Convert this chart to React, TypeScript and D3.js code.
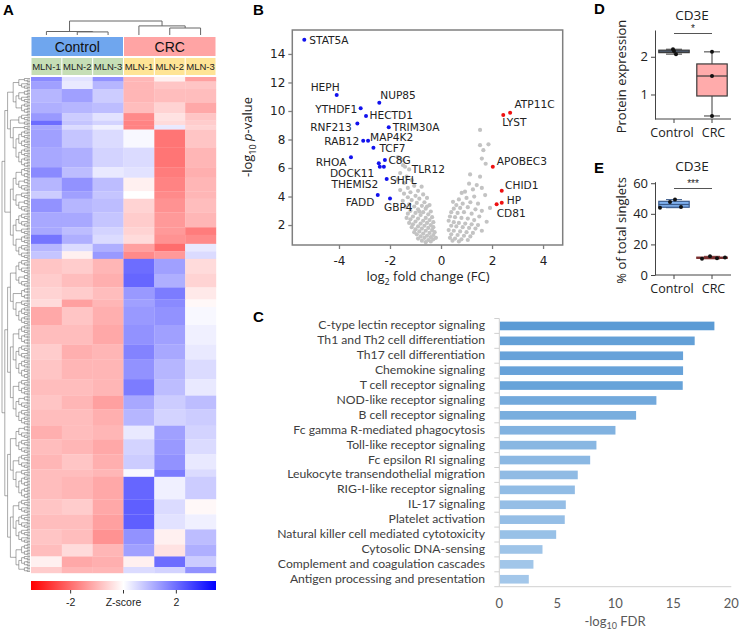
import React, { useRef, useEffect } from "react";
import * as d3 from "d3";

// ---------- A: heatmap ----------
const groups = ["Control", "CRC"];
const samples = ["MLN-1", "MLN-2", "MLN-3", "MLN-1", "MLN-2", "MLN-3"];
// number of gene rows in each band of the heatmap (top to bottom)
const bandRows = [
  3, 5, 9, 7, 5, 3, 3, 12, 13, 7, 9, 5, 9, 10, 5, 6, 5, 5,
  10, 9, 8, 5, 12, 13, 10, 13, 11, 9, 11, 9, 10, 10, 5, 15, 10, 10, 10, 8, 7, 4,
];
// z-score of each band in the six samples (Control 1-3, CRC 1-3)
const bandZ = [
  [1.6, 0.4, 1.5, -1.0, -0.2, -1.3],
  [1.3, 0.3, 1.0, -1.0, -0.8, -0.8],
  [1.0, 1.3, 0.7, -1.0, -0.9, -0.9],
  [1.1, 1.0, 0.9, -0.9, -0.6, -1.2],
  [1.4, 0.7, 0.4, -1.6, -0.4, -0.8],
  [2.0, 0.8, 0.6, -1.7, -0.5, -0.7],
  [1.2, 0.5, 0.2, -1.7, 0.3, -0.6],
  [1.3, 0.8, 0.5, 0.1, -1.9, -0.8],
  [1.2, 1.1, 0.6, 0.5, -1.9, -1.0],
  [1.6, 0.9, 0.3, 0.4, -1.8, -1.1],
  [1.0, 1.5, 0.9, -0.2, -1.7, -1.0],
  [0.7, 1.3, 0.8, 0.0, -1.6, -1.0],
  [1.5, 1.0, 0.9, -0.6, -1.5, -0.9],
  [1.2, 1.2, 0.8, -0.7, -1.4, -1.0],
  [1.2, 0.9, 0.6, -0.6, -1.4, -1.8],
  [1.9, 1.1, 0.5, -0.5, -1.5, -1.6],
  [1.0, 0.5, 1.1, -1.3, -2.0, 0.3],
  [0.8, -0.2, 1.4, -1.6, -1.4, 0.5],
  [-0.8, -0.7, -1.0, 2.0, 1.3, -0.5],
  [-0.7, -0.9, -1.1, 2.1, 1.1, -0.6],
  [-0.6, -0.7, -0.9, 1.4, 1.8, -0.3],
  [-0.5, -1.3, -1.0, 1.3, 1.6, -0.1],
  [-1.2, -0.8, -1.1, 1.4, 1.5, 0.1],
  [-0.9, -0.9, -1.2, 1.5, 1.3, 0.2],
  [-0.7, -1.1, -1.0, 1.7, 1.2, 0.3],
  [-0.8, -1.0, -1.0, 1.5, 1.0, 0.5],
  [-0.9, -0.9, -1.0, 1.8, 0.9, 0.3],
  [-0.8, -1.0, -1.3, 1.2, 0.7, 0.9],
  [-0.9, -0.9, -1.1, 1.0, 0.6, 0.7],
  [-1.1, -0.9, -1.0, 0.3, 1.3, 0.6],
  [-0.9, -1.0, -1.2, 0.6, 1.4, 0.5],
  [-1.0, -0.8, -1.1, 0.7, 1.5, 0.3],
  [-0.9, -0.9, -1.0, 0.1, 1.8, 0.5],
  [-0.9, -1.0, -1.2, 2.1, 0.2, 0.7],
  [-0.8, -0.7, -1.2, 2.2, 0.5, -0.1],
  [-0.9, -0.9, -1.3, 2.2, 0.4, 0.2],
  [-0.8, -0.9, -1.5, 1.5, -0.2, 0.9],
  [-0.9, -0.5, -1.0, 1.3, -0.4, 1.1],
  [-0.2, -1.2, -1.1, -0.2, 2.0, 0.7],
  [-0.7, -1.0, -1.0, 0.5, 0.6, 1.5],
];
const upperClusterBands = 18;
const zTicks = [-2, 0, 2];
// sample dendrogram: [left, right, height]; leaves 0-5, merges numbered from 6
const colMerges = [
  [1, 2, 0.22],
  [0, 6, 0.25],
  [4, 5, 0.5],
  [3, 8, 0.65],
  [7, 9, 1],
];

// ---------- B: volcano ----------
const downGenes = ["STAT5A", "HEPH", "NUP85", "YTHDF1", "HECTD1", "RNF213", "TRIM30A", "RAB12", "MAP4K2",
  "TCF7", "RHOA", "C8G", "DOCK11", "TLR12", "THEMIS2", "SHFL", "FADD", "GBP4"];
const downFC = [-5.36, -4.09, -2.42, -3.15, -2.94, -3.28, -2.05, -3.05, -2.86,
  -2.65, -3.53, -2.2, -2.44, -2.24, -2.4, -2.13, -2.48, -2.0];
const downP = [15.0, 11.12, 10.58, 10.19, 9.65, 9.13, 8.86, 7.92, 7.92,
  7.42, 6.75, 6.56, 6.33, 6.09, 6.09, 5.23, 4.1, 3.87];
const upGenes = ["ATP11C", "LYST", "APOBEC3", "CHID1", "HP", "CD81"];
const upFC = [2.71, 2.44, 2.03, 2.38, 2.38, 2.18];
const upP = [9.88, 9.72, 6.09, 4.41, 3.57, 3.45];
const otherGenes: [number, number][] = [
  [-1.54, 6.56], [-1.41, 6.09], [-1.69, 6.77], [-1.49, 6.2], [-1.6, 5.65], [-1.25, 5.9], [-1.35, 5.4],
  [-1.7, 5.2], [-1.15, 5.15], [-1.45, 4.95], [-0.76, 4.69], [-1.05, 4.75], [-1.3, 4.6], [-1.6, 4.45],
  [-0.9, 4.4], [-1.2, 4.3], [-1.45, 4.2], [-0.7, 4.15], [-1.0, 4.05], [-1.3, 3.95], [-0.55, 3.9],
  [-0.85, 3.85], [-1.15, 3.75], [-1.5, 3.7], [-0.65, 3.6], [-0.95, 3.55], [-1.25, 3.45], [-0.45, 3.4],
  [-0.75, 3.35], [-1.05, 3.3], [-1.4, 3.25], [-0.6, 3.15], [-0.9, 3.1], [-1.2, 3.0], [-0.4, 2.95],
  [-0.7, 2.9], [-1.0, 2.85], [-1.3, 2.8], [-0.5, 2.75], [-0.8, 2.7], [-1.1, 2.6], [-0.35, 2.55],
  [-0.6, 2.5], [-0.9, 2.45], [-1.2, 2.4], [-0.45, 2.35], [-0.7, 2.3], [-1.0, 2.25], [-0.3, 2.2],
  [-0.55, 2.15], [-0.8, 2.1], [-1.1, 2.05], [-0.4, 2.0], [-0.65, 1.95], [-0.9, 1.9], [-0.3, 1.85],
  [-0.5, 1.8], [-0.75, 1.75], [-1.0, 1.7], [-0.35, 1.65], [-0.6, 1.6], [-0.85, 1.55], [-0.25, 1.5],
  [-0.45, 1.45], [-0.7, 1.4], [-0.95, 1.35], [-0.3, 1.3], [-0.55, 1.25], [-0.8, 1.2], [-0.4, 1.15],
  [-0.65, 1.1], [-0.9, 1.05], [-0.3, 1.0], [-0.5, 0.95], [-0.75, 0.9], [-0.4, 0.85], [-0.6, 0.8],
  [-1.05, 1.5], [-1.15, 1.85], [-1.25, 2.15], [-0.2, 1.1], [-0.85, 2.95], [-0.55, 3.3], [-1.35, 2.5],
  [1.53, 8.67], [1.53, 7.6], [1.86, 7.66], [1.66, 7.25], [1.6, 6.66], [1.75, 6.3], [1.14, 5.55],
  [1.53, 5.39], [1.4, 4.8], [1.73, 4.1], [1.92, 3.2], [1.79, 2.23], [0.94, 4.34], [0.81, 4.25],
  [1.25, 4.5], [1.1, 4.9], [1.6, 4.6], [0.47, 3.63], [0.7, 3.8], [1.0, 3.9], [1.3, 4.0], [0.6, 3.4],
  [0.85, 3.5], [1.15, 3.6], [1.45, 3.5], [0.5, 3.15], [0.75, 3.2], [1.05, 3.25], [1.35, 3.1],
  [1.6, 3.0], [0.4, 2.9], [0.65, 2.85], [0.9, 2.9], [1.2, 2.8], [1.5, 2.6], [0.35, 2.6], [0.55, 2.55],
  [0.8, 2.5], [1.05, 2.45], [1.3, 2.35], [0.3, 2.3], [0.5, 2.2], [0.7, 2.15], [0.95, 2.1], [1.2, 2.05],
  [0.4, 1.95], [0.6, 1.9], [0.85, 1.85], [1.1, 1.8], [1.35, 1.75], [0.3, 1.65], [0.5, 1.6], [0.75, 1.55],
  [1.0, 1.5], [1.25, 1.45], [0.4, 1.35], [0.65, 1.3], [0.9, 1.25], [1.15, 1.2], [0.35, 1.1], [0.55, 1.05],
  [0.8, 1.0], [1.05, 0.95], [0.45, 0.9], [0.7, 0.85], [1.45, 2.0], [1.6, 1.6],
];
const fcTicks = [-4, -2, 0, 2, 4];
const pTicks = [2, 4, 6, 8, 10, 12, 14];

// label placement next to each named point: [dx, dy, anchor]
const downLabelPos: [number, number, string][] = [
  [5, 4, "start"], [3, -4, "end"], [1, -4, "start"], [-3.5, 4.5, "end"], [3.5, 3.5, "start"],
  [-5.5, 7.5, "end"], [4, 3.5, "start"], [-4, 4.5, "end"], [2, 0, "start"], [6, 4.5, "start"],
  [-4.5, 8.5, "end"], [3.5, 3.5, "start"], [-4.5, 13.5, "end"], [27.8, 5.8, "start"],
  [-1.5, 21, "end"], [3.3, 5.5, "start"], [-3.4, 11, "end"], [8.3, 12.7, "middle"],
];
const upLabelPos: [number, number, string][] = [
  [4.3, -5, "start"], [-1, 11.5, "start"], [4, -2, "start"], [3.3, -2, "start"], [5, 1, "start"], [0, 12.7, "start"],
];

// ---------- C: pathway enrichment ----------
const pathways = [
  "C-type lectin receptor signaling",
  "Th1 and Th2 cell differentiation",
  "Th17 cell differentiation",
  "Chemokine signaling",
  "T cell receptor signaling",
  "NOD-like receptor signaling",
  "B cell receptor signaling",
  "Fc gamma R-mediated phagocytosis",
  "Toll-like receptor signaling",
  "Fc epsilon RI signaling",
  "Leukocyte transendothelial migration",
  "RIG-I-like receptor signaling",
  "IL-17 signaling",
  "Platelet activation",
  "Natural killer cell mediated cytotoxicity",
  "Cytosolic DNA-sensing",
  "Complement and coagulation cascades",
  "Antigen processing and presentation",
];
const fdr = [18.5, 16.8, 15.8, 15.8, 15.77, 13.5, 11.75, 9.97, 8.33, 7.79, 6.72, 6.47, 5.69, 5.6, 4.86, 3.68, 2.9, 2.5];
const fdrTicks = [0, 5, 10, 15, 20];

// ---------- D / E: CD3E boxplots ----------
const boxGroups = ["Control", "CRC"];
const proteinControl = [2.07, 2.15, 2.2];
const proteinCRC = [0.43, 1.49, 2.13];
const singletsControl = [44.0, 44.4, 47.8, 49.3];
const singletsCRC = [10.6, 11.0, 11.5, 12.2];
const proteinTicks = [1, 2];
const singletsTicks = [0, 20, 40, 60];

const W = 739;
const H = 632;
const SANS = "Liberation Sans, Arial, sans-serif";
const VERD = "DejaVu Sans, Verdana, sans-serif";
const OPEN = "Open Sans, sans-serif";
const LATO = "Lato, sans-serif";

function panelLetter(svg: any, t: string, x: number, y: number) {
  svg.append("text").attr("x", x).attr("y", y).text(t)
    .style("font-family", SANS).style("font-weight", "bold").style("font-size", "15px");
}

function drawHeatmap(svg: any) {
  const g = svg.append("g");
  const x0 = 31, x1 = 216, y0 = 77, y1 = 573;
  const nRows = d3.sum(bandRows);
  const starts = [0];
  bandRows.forEach((n) => starts.push(starts[starts.length - 1] + n));
  const col = d3.scaleBand<number>().domain(d3.range(samples.length)).range([x0, x1]);
  const row = d3.scaleLinear().domain([0, nRows]).range([y0, y1]);
  const zColor = d3.scaleLinear<string>().domain([-3.5, 0, 3.5]).range(["#ff0000", "#ffffff", "#0000ff"]);

  bandZ.forEach((vals, b) => {
    vals.forEach((v, c) => {
      g.append("rect")
        .attr("x", col(c))
        .attr("y", row(starts[b]))
        .attr("width", col.bandwidth() + 0.2)
        .attr("height", row(starts[b + 1]) - row(starts[b]) + 0.2)
        .attr("fill", zColor(v));
    });
  });

  // group + sample headers
  const groupFill = ["#6fa6ee", "#ffa4a4"];
  const sampleFill = ["#c6deb6", "#ffe496"];
  groups.forEach((name, i) => {
    const gx0 = col(i * 3)!, gx1 = col(i * 3 + 2)! + col.bandwidth();
    g.append("rect").attr("x", gx0 + 0.5).attr("y", 37).attr("width", gx1 - gx0 - 1).attr("height", 19)
      .attr("fill", groupFill[i]);
    g.append("text").attr("x", (gx0 + gx1) / 2).attr("y", 52).attr("text-anchor", "middle").text(name)
      .style("font-family", SANS).style("font-size", "14px").attr("fill", "#111");
  });
  samples.forEach((s, c) => {
    g.append("rect").attr("x", col(c)! + 0.5).attr("y", 58).attr("width", col.bandwidth() - 1).attr("height", 17)
      .attr("fill", sampleFill[c < 3 ? 0 : 1]);
    g.append("text").attr("x", col(c)! + col.bandwidth() / 2).attr("y", 69.5).attr("text-anchor", "middle").text(s)
      .style("font-family", SANS).style("font-size", "9.5px").attr("fill", "#222");
  });

  // sample dendrogram
  const hY = d3.scaleLinear().domain([0, 1]).range([35, 21]);
  const nodes = d3.range(samples.length).map((c) => ({ x: col(c)! + col.bandwidth() / 2, h: 0 }));
  colMerges.forEach(([a, b, h]) => {
    const A = nodes[a], B = nodes[b];
    g.append("path").attr("d", `M${A.x},${hY(A.h)}V${hY(h)}H${B.x}V${hY(B.h)}`)
      .attr("fill", "none").attr("stroke", "#666").attr("stroke-width", 1);
    nodes.push({ x: (A.x + B.x) / 2, h });
  });

  // gene dendrogram
  const rowTree = (lo: number, hi: number): any => {
    if (hi - lo === 1) return { row: lo };
    const mid = Math.floor((lo + hi) / 2);
    return { children: [rowTree(lo, mid), rowTree(mid, hi)] };
  };
  const joinTrees = (list: any[]): any => {
    if (list.length === 1) return list[0];
    const m = Math.floor(list.length / 2);
    return { children: [joinTrees(list.slice(0, m)), joinTrees(list.slice(m))] };
  };
  const bandTrees = bandRows.map((n, b) => rowTree(starts[b], starts[b] + n));
  const root = d3.hierarchy({
    children: [joinTrees(bandTrees.slice(0, upperClusterBands)), joinTrees(bandTrees.slice(upperClusterBands))],
  } as any);
  const rowH = (y1 - y0) / nRows;
  d3.cluster().separation(() => 1).size([(nRows - 1) * rowH, 28])(root as any);
  root.links().forEach((l: any) => {
    const s = l.source, t = l.target;
    g.append("path")
      .attr("d", `M${2 + s.y},${y0 + rowH / 2 + s.x}V${y0 + rowH / 2 + t.x}H${2 + t.y}`)
      .attr("fill", "none").attr("stroke", "#555").attr("stroke-width", 0.5);
  });

  // colour key
  const defs = svg.append("defs");
  const grad = defs.append("linearGradient").attr("id", "zgrad");
  grad.append("stop").attr("offset", "0%").attr("stop-color", "#ff0000");
  grad.append("stop").attr("offset", "50%").attr("stop-color", "#ffffff");
  grad.append("stop").attr("offset", "100%").attr("stop-color", "#0000ff");
  g.append("rect").attr("x", x0).attr("y", 581).attr("width", x1 - x0).attr("height", 9).attr("fill", "url(#zgrad)");
  const zx = d3.scaleLinear().domain([-3.5, 3.5]).range([x0, x1]);
  zTicks.forEach((t) => {
    g.append("line").attr("x1", zx(t)).attr("x2", zx(t)).attr("y1", 590).attr("y2", 593.5)
      .attr("stroke", "#333").attr("stroke-width", 1);
    g.append("text").attr("x", zx(t)).attr("y", 606).attr("text-anchor", "middle")
      .text(t === 0 ? "Z-score" : String(t))
      .style("font-family", SANS).style("font-size", "10.5px").attr("fill", "#222");
  });
}

function drawVolcano(svg: any) {
  const g = svg.append("g");
  const x = d3.scaleLinear().domain([-5.83, 4.77]).range([292.3, 562.7]);
  const y = d3.scaleLinear().domain([0.6, 15.68]).range([245, 30]);

  g.selectAll("circle.other").data(otherGenes).enter().append("circle")
    .attr("cx", (d: any) => x(d[0])).attr("cy", (d: any) => y(d[1])).attr("r", 2.1).attr("fill", "#c3c3c3");

  const named = (genes: string[], fc: number[], p: number[], pos: any[], color: string) => {
    genes.forEach((gene, i) => {
      const px = x(fc[i]), py = y(p[i]);
      g.append("circle").attr("cx", px).attr("cy", py).attr("r", 2).attr("fill", color);
      g.append("text").attr("x", px + pos[i][0]).attr("y", py + pos[i][1]).attr("text-anchor", pos[i][2])
        .text(gene).style("font-family", VERD).style("font-size", "10.6px").attr("fill", "#222");
    });
  };
  named(downGenes, downFC, downP, downLabelPos, "#1212ee");
  named(upGenes, upFC, upP, upLabelPos, "#ee1111");

  g.append("rect").attr("x", 292.3).attr("y", 30).attr("width", 562.7 - 292.3).attr("height", 215)
    .attr("fill", "none").attr("stroke", "#7f7f7f").attr("stroke-width", 1.5);

  const ax = g.append("g").attr("transform", "translate(0,245)")
    .call(d3.axisBottom(x).tickValues(fcTicks).tickSize(4).tickFormat((d: any) => String(d)));
  const ay = g.append("g").attr("transform", "translate(292.3,0)")
    .call(d3.axisLeft(y).tickValues(pTicks).tickSize(4));
  [ax, ay].forEach((a: any) => {
    a.select(".domain").remove();
    a.selectAll("line").attr("stroke", "#7f7f7f").attr("stroke-width", 1.3);
    a.selectAll("text").style("font-family", VERD).style("font-size", "12px").attr("fill", "#222");
  });
  ax.selectAll("text").attr("dy", "1.05em");

  const xt = g.append("text").attr("x", 428).attr("y", 281).attr("text-anchor", "middle")
    .style("font-family", OPEN).style("font-size", "13px").attr("fill", "#222");
  xt.append("tspan").text("log");
  xt.append("tspan").text("2").attr("dy", 4).style("font-size", "9px");
  xt.append("tspan").text(" fold change (FC)").attr("dy", -4);

  const yt = g.append("text").attr("transform", "translate(252,137) rotate(-90)").attr("text-anchor", "middle")
    .style("font-family", OPEN).style("font-size", "13px").attr("fill", "#222");
  yt.append("tspan").text("-log");
  yt.append("tspan").text("10").attr("dy", 4).style("font-size", "9px");
  yt.append("tspan").text(" ").attr("dy", -4);
  yt.append("tspan").text("p").style("font-style", "italic");
  yt.append("tspan").text("-value");
}

function drawPathways(svg: any) {
  const g = svg.append("g");
  const x = d3.scaleLinear().domain([0, 20]).range([499.3, 731.3]);
  const y = d3.scaleBand().domain(pathways).range([318.5, 586.7]).paddingInner(0.42).paddingOuter(0.21);
  const fill = d3.scaleLinear<string>().domain([d3.min(fdr)!, d3.max(fdr)!]).range(["#a3c7ea", "#5b9bd5"]);

  pathways.forEach((p, i) => {
    g.append("rect").attr("x", x(0) + 0.5).attr("y", y(p)).attr("width", x(fdr[i]) - x(0))
      .attr("height", y.bandwidth()).attr("fill", fill(fdr[i]));
    g.append("text").attr("x", 485).attr("y", y(p)! + y.bandwidth() / 2 + 3.5).attr("text-anchor", "end").text(p)
      .style("font-family", LATO).style("font-size", "12.2px").attr("fill", "#404040");
  });

  const step = y.step();
  g.append("line").attr("x1", x(0)).attr("x2", x(0)).attr("y1", 318.5).attr("y2", 586.7)
    .attr("stroke", "#d0d0d0");
  d3.range(pathways.length + 1).forEach((i) => {
    g.append("line").attr("x1", x(0) - 5).attr("x2", x(0)).attr("y1", 318.5 + i * step).attr("y2", 318.5 + i * step)
      .attr("stroke", "#d0d0d0");
  });
  g.append("line").attr("x1", x(0)).attr("x2", x(20)).attr("y1", 586.7).attr("y2", 586.7).attr("stroke", "#d0d0d0");
  fdrTicks.forEach((t) => {
    g.append("text").attr("x", x(t)).attr("y", 607.5).attr("text-anchor", "middle").text(t)
      .style("font-family", LATO).style("font-size", "13px").attr("fill", "#595959");
  });
  const t = g.append("text").attr("x", 615).attr("y", 625.5).attr("text-anchor", "middle")
    .style("font-family", LATO).style("font-size", "13px").attr("fill", "#595959");
  t.append("tspan").text("-log");
  t.append("tspan").text("10").attr("dy", 3).style("font-size", "9px");
  t.append("tspan").text(" FDR").attr("dy", -3);
}

function drawBoxPanel(svg: any, opts: any) {
  const g = svg.append("g");
  const { y, data, fills, strokes, ticks, yTitle, titleY, sigY, sig, jitter } = opts;
  const x = d3.scaleBand().domain(boxGroups).range([655, 731]).paddingInner(0.2).paddingOuter(0.1);
  const [yb, yt] = y.range();

  g.append("text").attr("x", 692).attr("y", titleY).attr("text-anchor", "middle").text("CD3E")
    .style("font-family", OPEN).style("font-size", "13.5px").attr("fill", "#222");

  // axes
  const ay = g.append("g").attr("transform", "translate(655,0)")
    .call(d3.axisLeft(y).tickValues(ticks).tickSize(4).tickSizeOuter(0).tickFormat(d3.format("d")));
  ay.select(".domain").attr("stroke", "#444");
  ay.selectAll("line").attr("stroke", "#444");
  ay.selectAll("text").style("font-family", OPEN).style("font-size", "13px").attr("fill", "#222");
  g.append("line").attr("x1", 655).attr("x2", 731).attr("y1", yb).attr("y2", yb).attr("stroke", "#444");
  boxGroups.forEach((grp) => {
    const cx = x(grp)! + x.bandwidth() / 2;
    g.append("line").attr("x1", cx).attr("x2", cx).attr("y1", yb).attr("y2", yb + 4).attr("stroke", "#444");
    g.append("text").attr("x", grp === "Control" ? cx - 2 : cx + 1.5).attr("y", yb + 18).attr("text-anchor", "middle")
      .text(grp).style("font-family", OPEN).style("font-size", "12.5px").attr("fill", "#222");
  });
  g.append("text").attr("transform", `translate(626,${(yb + yt) / 2 + 2}) rotate(-90)`).attr("text-anchor", "middle")
    .text(yTitle).style("font-family", OPEN).style("font-size", "13px").attr("fill", "#222");

  // boxes
  data.forEach((vals: number[], i: number) => {
    const s = vals.slice().sort(d3.ascending);
    const q1 = d3.quantile(s, 0.25)!, med = d3.quantile(s, 0.5)!, q3 = d3.quantile(s, 0.75)!;
    const lo = s[0], hi = s[s.length - 1];
    const bx = x(boxGroups[i])!, bw = x.bandwidth(), cx = bx + bw / 2;
    g.append("line").attr("x1", cx).attr("x2", cx).attr("y1", y(hi)).attr("y2", y(q3)).attr("stroke", strokes[i]);
    g.append("line").attr("x1", cx).attr("x2", cx).attr("y1", y(q1)).attr("y2", y(lo)).attr("stroke", strokes[i]);
    [lo, hi].forEach((v) =>
      g.append("line").attr("x1", cx - 8).attr("x2", cx + 8).attr("y1", y(v)).attr("y2", y(v)).attr("stroke", strokes[i]));
    g.append("rect").attr("x", bx).attr("y", y(q3)).attr("width", bw).attr("height", Math.max(1, y(q1) - y(q3)))
      .attr("fill", fills[i]).attr("stroke", strokes[i]).attr("stroke-width", 1.2);
    g.append("line").attr("x1", bx).attr("x2", bx + bw).attr("y1", y(med)).attr("y2", y(med))
      .attr("stroke", strokes[i]).attr("stroke-width", 1.2);
    vals.forEach((v, j) => {
      g.append("circle").attr("cx", cx + jitter[i][j]).attr("cy", y(v)).attr("r", 2).attr("fill", "#111");
    });
  });

  // significance
  const c0 = x(boxGroups[0])! + x.bandwidth() / 2, c1 = x(boxGroups[1])! + x.bandwidth() / 2;
  g.append("line").attr("x1", c0).attr("x2", c1).attr("y1", sigY).attr("y2", sigY).attr("stroke", "#555")
    .attr("stroke-width", 1.2);
  g.append("text").attr("x", (c0 + c1) / 2).attr("y", sigY - 2).attr("text-anchor", "middle").text(sig)
    .style("font-family", SANS).style("font-size", "10px").attr("fill", "#222");
}

function draw(svg: any) {
  drawHeatmap(svg);
  drawVolcano(svg);
  drawPathways(svg);

  drawBoxPanel(svg, {
    y: d3.scaleLinear().domain([0.35, 2.71]).range([119, 30]),
    data: [proteinControl, proteinCRC],
    fills: ["#7aa4df", "#ffabab"],
    strokes: ["#3a3a3a", "#3a3a3a"],
    ticks: proteinTicks,
    yTitle: "Protein expression",
    titleY: 20,
    sigY: 33.5,
    sig: "*",
    jitter: [[2, 0, -1], [0, 0, 0]],
  });
  drawBoxPanel(svg, {
    y: d3.scaleLinear().domain([0, 61]).range([275, 181.7]),
    data: [singletsControl, singletsCRC],
    fills: ["#7fb0ee", "#eb9a9a"],
    strokes: ["#3b5b8b", "#7a3030"],
    ticks: singletsTicks,
    yTitle: "% of total singlets",
    titleY: 171,
    sigY: 188.5,
    sig: "***",
    jitter: [[-14, 7, -4, 1], [-10, 5, 13, -2]],
  });

  panelLetter(svg, "A", 3, 15);
  panelLetter(svg, "B", 253, 15);
  panelLetter(svg, "C", 253, 322);
  panelLetter(svg, "D", 594, 14);
  panelLetter(svg, "E", 594, 173);
}

export default function App() {
  const ref = useRef<SVGSVGElement>(null);
  useEffect(() => {
    const svg = d3.select(ref.current);
    svg.selectAll("*").remove();
    draw(svg);
  }, []);
  return (
    <div style={{ position: "absolute", left: 0, top: 0 }}>
      <svg ref={ref} width={W} height={H} style={{ display: "block", background: "#fff" }} />
    </div>
  );
}
